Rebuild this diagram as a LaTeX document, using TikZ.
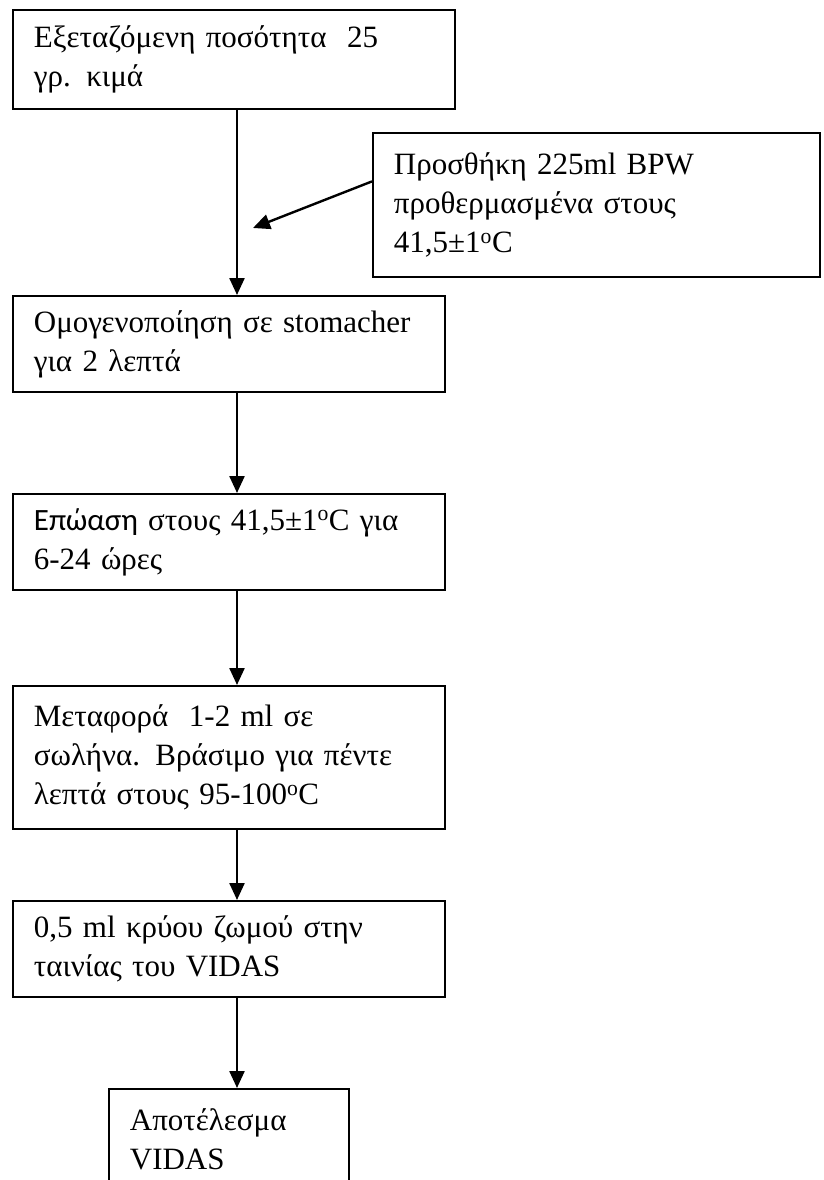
\documentclass[tikz,border=0pt]{standalone}
\usepackage{fontspec}
\setmainfont{Liberation Serif}
\newfontfamily\carlito{Carlito}
\usetikzlibrary{arrows.meta}
\begin{document}
\begin{tikzpicture}[x=1pt,y=-1pt,
  stepbox/.style={draw, line width=1.8pt, anchor=north west, align=left,
    inner xsep=21pt, inner ysep=0pt, font=\fontsize{31}{39}\selectfont},
  arr/.style={line width=2.4pt, -{Triangle[length=17pt,width=15pt]}}]
\fill[white] (0,0) rectangle (824,1180);
\useasboundingbox (0,0) rectangle (824,1180);
\clip (0,0) rectangle (824,1180);
\coordinate (ax) at (237,0);
\coordinate (tip) at (253,228);
\node[stepbox, minimum width=442pt, minimum height=99pt, text width=400pt] (b1) at (12,9)
  {Εξεταζόμενη ποσότητα\ \ 25\\γρ. κιμά};
\node[stepbox, minimum width=447pt, minimum height=144pt, text width=405pt] (b2) at (372,132)
  {Προσθήκη 225ml BPW\\προθερμασμένα στους\\41,5±1\textsuperscript{o}C};
\node[stepbox, minimum width=432pt, minimum height=96pt, text width=390pt] (b3) at (12,295)
  {Ομογενοποίηση σε stomacher\\για 2 λεπτά};
\node[stepbox, minimum width=432pt, minimum height=96pt, text width=390pt] (b4) at (12,493)
  {{\carlito Επώαση} στους 41,5±1\textsuperscript{o}C για\\6-24 ώρες};
\node[stepbox, minimum width=432pt, minimum height=143pt, text width=390pt] (b5) at (12,685)
  {Μεταφορά\ \ 1-2 ml σε\\σωλήνα. Βράσιμο για πέντε\\λεπτά στους 95-100\textsuperscript{o}C};
\node[stepbox, minimum width=432pt, minimum height=96pt, text width=390pt] (b6) at (12,900)
  {0,5 ml κρύου ζωμού στην\\ταινίας του VIDAS};
\node[stepbox, minimum width=240pt, minimum height=100pt, text width=198pt] (b7) at (108,1088)
  {Αποτέλεσμα\\VIDAS};
\draw[arr] (b1.south -| ax) -- (b3.north -| ax);
\draw[arr] ([yshift=23.5pt]b2.west) -- (tip);
\draw[arr] (b3.south -| ax) -- (b4.north -| ax);
\draw[arr] (b4.south -| ax) -- (b5.north -| ax);
\draw[arr] (b5.south -| ax) -- (b6.north -| ax);
\draw[arr] (b6.south -| ax) -- (b7.north -| ax);
\end{tikzpicture}
\end{document}
